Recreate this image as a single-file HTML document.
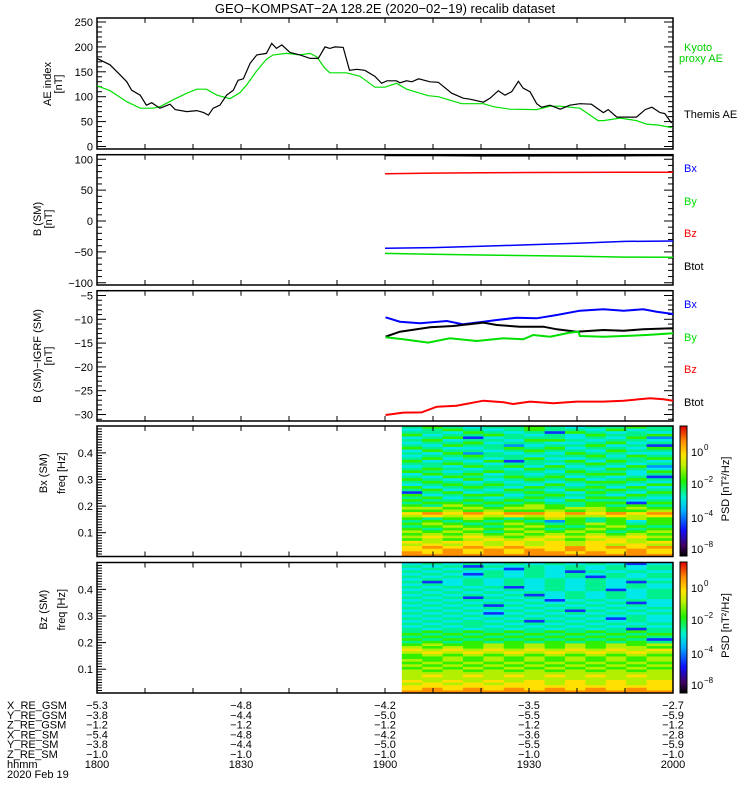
<!DOCTYPE html>
<html><head><meta charset="utf-8">
<style>
html,body{margin:0;padding:0;background:#fff;}
svg{display:block;font-family:"Liberation Sans",sans-serif;}
text{font-size:11px;}
</style></head>
<body>
<svg id="chart" width="750" height="800" viewBox="0 0 750 800" xmlns="http://www.w3.org/2000/svg">
<defs>
<linearGradient id="cbar" x1="0" y1="1" x2="0" y2="0">
<stop offset="0" stop-color="#000000"/>
<stop offset="0.08" stop-color="#400060"/>
<stop offset="0.2" stop-color="#1010ff"/>
<stop offset="0.35" stop-color="#00b0ff"/>
<stop offset="0.45" stop-color="#00f0d0"/>
<stop offset="0.58" stop-color="#20f000"/>
<stop offset="0.7" stop-color="#c0f000"/>
<stop offset="0.78" stop-color="#ffe000"/>
<stop offset="0.88" stop-color="#ff9000"/>
<stop offset="1" stop-color="#e00000"/>
</linearGradient>
</defs>
<text x="385" y="13" text-anchor="middle" style="font-size:13px">GEO−KOMPSAT−2A 128.2E (2020−02−19) recalib dataset</text>
<g id="g"></g>
</svg>
<script>
// ---------- data ----------
const aeTimes = [0,2.7,4.8,6.2,7.2,9.0,10.3,11.4,13.1,15.2,16.3,18.7,20.8,22.2,23.2,24.2,25.6,27.0,28.4,29.4,30.5,31.9,33.3,35.3,36.4,37.4,38.5,40.2,42.3,44.4,46.1,47.5,48.5,49.6,51.3,52.6,54.1,55.8,57.9,59.3,60.4,62.4,63.1,64.5,65.6,67.0,69.4,71.1,73.9,76.3,77.7,80.5,81.9,83.6,85.0,86.4,87.8,88.8,90.2,91.6,92.6,94.4,96.5,98.5,100.6,103.0,105.5,106.5,108.3,112.4,114.2,115.6,117.3,118.3,119.7];
const themisAE = [177,164,144,130,113,103,83,88,77,85,74,70,72,68,63,77,83,103,113,133,136,167,184,187,207,197,204,189,184,177,177,200,197,200,199,153,155,153,141,127,132,132,128,132,130,136,130,129,107,97,95,89,97,112,103,110,131,117,110,86,79,83,75,83,86,85,68,74,59,59,74,79,68,66,47];
const kyotoTimes = [0,2.7,4.8,6.2,9.0,11.7,13.1,15.9,18.7,20.8,22.8,25.0,27.7,29.8,31.2,33.3,35.3,36.7,39.5,42.3,44.4,45.8,47.5,48.5,52.0,54.8,57.9,60.0,62.4,64.5,69.0,71.1,73.9,76.0,80.5,82.6,86.0,91.6,94.4,96.5,98.5,100.6,104.4,105.5,109.0,112.4,114.5,117.0,119.7];
const kyotoAE = [122,112,99,90,77,77,80,94,107,115,115,103,96,108,124,152,175,184,187,184,187,180,157,148,148,141,119,119,127,115,102,100,92,86,86,80,75,74,81,81,79,77,52,52,57,52,45,43,38];

const bTimes = [60,70,80,90,100,110,120];
const bsmBx = [-44,-43,-41,-38.5,-36,-33,-32.4];
const bsmBy = [-52.4,-54,-55,-56,-57,-58.5,-58.8];
const bsmBz = [76.5,77.5,78,78.5,78.7,78.8,78.9];
const bsmBtot = [106,106,105.5,105.5,105.5,105.8,106];

const dBxT = [60.1,63.1,67.3,72.9,76.3,80.5,83.3,87.4,91.6,95.8,100.6,105.5,109.7,113.8,116.6,120];
const dBx = [-9.58,-10.5,-10.85,-10.36,-11.06,-10.5,-10.15,-9.66,-9.79,-9.1,-8.19,-7.9,-8.19,-7.9,-8.4,-8.89];
const dByT = [60.1,63.8,69.0,73.5,79.1,84.7,88.8,90.9,94.4,98.5,100.3,100.6,105.5,109.7,114.5,120];
const dBy = [-13.78,-14.2,-14.9,-14.0,-14.56,-14.0,-14.2,-13.3,-13.66,-12.8,-12.6,-13.5,-13.66,-13.5,-13.3,-12.95];
const dBzT = [60.1,63.8,67.6,70.8,74.9,80.5,84.7,86.7,90.2,95.1,99.9,105.5,109.7,115.2,118,120];
const dBz = [-30.1,-29.6,-29.55,-28.36,-28.15,-27.1,-27.44,-27.8,-27.3,-27.65,-27.3,-27.3,-27.1,-26.6,-26.8,-27.1];
const dBtT = [60.1,63.1,69.4,74.2,80.5,83.3,88.1,93,95.8,99.9,105.5,109.7,113.8,120];
const dBt = [-13.66,-12.6,-11.68,-11.4,-10.7,-11.2,-11.55,-11.55,-12.1,-12.6,-12.25,-12.4,-12.1,-11.9];

const xTickLabels = ["1800","1830","1900","1930","2000"];
const xTickMinutes = [0,30,60,90,120];
const ephemNames = ["X_RE_GSM","Y_RE_GSM","Z_RE_GSM","X_RE_SM","Y_RE_SM","Z_RE_SM","hhmm"];
const ephemX_GSM = ["−5.3","−4.8","−4.2","−3.5","−2.7"];
const ephemY_GSM = ["−3.8","−4.4","−5.0","−5.5","−5.9"];
const ephemZ_GSM = ["−1.2","−1.2","−1.2","−1.2","−1.2"];
const ephemX_SM = ["−5.4","−4.8","−4.2","−3.6","−2.8"];
const ephemY_SM = ["−3.8","−4.4","−5.0","−5.5","−5.9"];
const ephemZ_SM = ["−1.0","−1.0","−1.0","−1.0","−1.0"];

// spectrogram: log-PSD level codes (0 low .. 9 high), rows top (high freq) -> bottom
const specStartMin = 63.5;
const specColMin = 4.25;
const specBx = ["5654556545565","4565456554645","5546545265454","6455654546556","4562455545463","5645546654554","4556455445645","5465534556452","6544565645546","4655456554655","5463545465544","4556554556465","5645456445556","6454625564654","5565455456545","4546564645463","5654546554654","6545655465546","4656454556645","5465565645452","6546456564565","5654545456654","4565654645546","6456546556464","5645465465655","2564556546546","6456645655465","5645456546654","6556565465545","5665656556626","6576567656565","7767677677676","6676766767667","8989899898989","7878787877878","6567656765676","5656565365646","6765676567656","5676567656765","6567676567656","7676567676567","6767676767676","7878767878787","6767878767876","8788787878878","7878787878787","8989898898989","8898989898898","9898989989898","9999999999999"];
const specBz = ["4545454545424","5452545454545","4545425454545","5454545425454","4542545454545","5454545452545","4545454545454","5245454545425","4545454545454","5454524545454","4545454545245","5454545454545","4545452454545","5452545454545","4545454245454","5454545454524","4545254545454","5454545454545","4545454525454","5454245454545","4545454545454","5454545454254","4545452545454","5455545454545","4545454545454","5454545454525","5656565656565","6565656565656","5656565656565","6565656565652","5656565656565","6766767676767","7676767676776","8787878787878","7878787878787","6767676767676","6676767676767","7676767676767","6767676767676","7676767676767","6767676767676","7676767676767","7777777777777","7878787878787","7777777777777","8787878787878","7878788787878","8888888888888","8989898989898","9999999999999"];
const levelColors = ["#300040","#3000b0","#1030ff","#0090ff","#00e8e8","#00f090","#30f000","#b0f000","#ffe000","#ff9000"];

// ---------- helpers ----------
const NS = "http://www.w3.org/2000/svg";
const G = document.getElementById("g");
const X0 = 97, X1 = 673;
function xs(m){ return X0 + m * (X1 - X0) / 120; }
function mk(tag, attrs){ const e = document.createElementNS(NS, tag); for (const k in attrs) e.setAttribute(k, attrs[k]); G.appendChild(e); return e; }
function txt(x, y, s, attrs){ const e = mk("text", Object.assign({x:x, y:y}, attrs||{})); e.textContent = s; return e; }

const panels = [
  {top:18, bot:149, y:v=>146.5 - v*0.498},
  {top:154.7, bot:285, y:v=>221 - v*0.6175},
  {top:290.7, bot:421, y:v=>295.5 + (-5 - v)*4.76},
  {top:426, bot:556.5, y:f=>559.3 - f*266},
  {top:562.5, bot:693, y:f=>695.8 - f*266}
];

function frame(p, name){
  const r = mk("rect", {x:X0, y:p.top, width:X1-X0, height:p.bot-p.top, fill:"none", stroke:"#000", "stroke-width":1.5});
  
  
  for (let m = 0; m <= 120; m += 10){
    const x = xs(m);
    const t1 = mk("line", {x1:x, x2:x, y1:p.bot, y2:p.bot-5, stroke:"#000"});
    
    
    const t2 = mk("line", {x1:x, x2:x, y1:p.top, y2:p.top+5, stroke:"#000"});
    
    
  }
}
function yTicks(p, lo, hi, minor, major, labels){
  for (let v = lo; v <= hi + 1e-9; v += minor){
    const y = p.y(v);
    if (y < p.top - 0.5 || y > p.bot + 0.5) continue;
    const isMaj = Math.abs(Math.round(v/major)*major - v) < 1e-6;
    const L = isMaj ? 9 : 5;
    const a = mk("line", {x1:X0, x2:X0+L, y1:y, y2:y, stroke:"#000"});
    
    
    const b = mk("line", {x1:X1, x2:X1-L, y1:y, y2:y, stroke:"#000"});
    
    
  }
  labels.forEach(v => {
    const t = txt(X0-4, p.y(v)+4, String(v).replace("-", "−"), {"text-anchor":"end"});
    
    
  });
}
function series(p, times, vals, color, w, name){
  const pts = times.map((t,i) => xs(t).toFixed(1) + "," + Math.max(p.top, Math.min(p.bot, p.y(vals[i]))).toFixed(1)).join(" ");
  const l = mk("polyline", {points:pts, fill:"none", stroke:color, "stroke-width":w});
  
  
}
function ylabel(x, y, s, name){
  const t = txt(0, 0, s, {transform:"translate("+x+","+y+") rotate(-90)", "text-anchor":"middle"});
  
  
}
function legend(x, y, s, color, name){
  const t = txt(x, y, s, {fill:color});
  
  
}

// ---------- panel 1: AE ----------
frame(panels[0], "ae-panel");
yTicks(panels[0], 0, 250, 10, 50, [250,200,150,100,50,0]);
series(panels[0], kyotoTimes, kyotoAE, "#00e000", 1.2, "kyoto-proxy-ae-line");
series(panels[0], aeTimes, themisAE, "#000", 1.2, "themis-ae-line");
ylabel(51, 84, "AE index", "ae-y-axis-title");
ylabel(62, 84, "[nT]", "ae-y-axis-unit");
legend(684, 51, "Kyoto", "#00d000", "legend-kyoto");
legend(679, 62, "proxy AE", "#00d000", "legend-proxy-ae");
legend(684, 118, "Themis AE", "#000", "legend-themis-ae");

// ---------- panel 2: B SM ----------
frame(panels[1], "bsm-panel");
yTicks(panels[1], -100, 100, 10, 50, [100,50,0,-50,-100]);
series(panels[1], bTimes, bsmBtot, "#000", 1.5, "bsm-btot-line");
series(panels[1], bTimes, bsmBz, "#ff0000", 1.5, "bsm-bz-line");
series(panels[1], bTimes, bsmBx, "#0000ff", 1.5, "bsm-bx-line");
series(panels[1], bTimes, bsmBy, "#00e000", 1.5, "bsm-by-line");
ylabel(41, 219, "B (SM)", "bsm-y-axis-title");
ylabel(52, 219, "[nT]", "bsm-y-axis-unit");
legend(684, 172, "Bx", "#0000ff", "legend-bx");
legend(684, 205, "By", "#00e000", "legend-by");
legend(684, 237, "Bz", "#ff0000", "legend-bz");
legend(684, 270, "Btot", "#000", "legend-btot");

// ---------- panel 3: B - IGRF ----------
frame(panels[2], "b-igrf-panel");
yTicks(panels[2], -31, -4, 1, 5, [-5,-10,-15,-20,-25,-30]);
series(panels[2], dBxT, dBx, "#0000ff", 2, "digrf-bx-line");
series(panels[2], dBtT, dBt, "#000", 2, "digrf-btot-line");
series(panels[2], dByT, dBy, "#00e000", 2, "digrf-by-line");
series(panels[2], dBzT, dBz, "#ff0000", 2, "digrf-bz-line");
ylabel(41, 356, "B (SM)−IGRF (SM)", "digrf-y-axis-title");
ylabel(52, 356, "[nT]", "digrf-y-axis-unit");
legend(684, 308, "Bx", "#0000ff", "legend-digrf-bx");
legend(684, 341, "By", "#00e000", "legend-digrf-by");
legend(684, 373, "Bz", "#ff0000", "legend-digrf-bz");
legend(684, 406, "Btot", "#000", "legend-digrf-btot");

// ---------- spectrograms ----------
function spectro(p, rows, name, ytitle, cbTop, cbBot){
  const n = rows.length, h = (p.bot - p.top) / n;
  rows.forEach((row, r) => {
    for (let c = 0; c < row.length; c++){
      const x0 = xs(specStartMin + c*specColMin);
      const x1 = c === row.length-1 ? X1 : xs(specStartMin + (c+1)*specColMin);
      const cell = mk("rect", {x:x0.toFixed(2), y:(p.top + r*h).toFixed(2), width:(x1-x0+0.3).toFixed(2), height:(h+0.3).toFixed(2), fill:levelColors[+row[c]]});
      
      
    }
  });
  frame(p, name + "-panel");
  for (let f = 0.01; f <= 0.5; f += 0.01){
    const y = p.y(f);
    if (y < p.top || y > p.bot) continue;
    const maj = Math.abs(f*10 - Math.round(f*10)) < 1e-6;
    const a = mk("line", {x1:X0, x2:X0+(maj?9:5), y1:y, y2:y, stroke:"#000"});
    
    
  }
  [0.4,0.3,0.2,0.1].forEach(f => {
    const t = txt(X0-4, p.y(f)+4, f.toFixed(1), {"text-anchor":"end"});
    
    
  });
  ylabel(47, (p.top+p.bot)/2 - 18, ytitle, name + "-y-axis-title");
  ylabel(65, (p.top+p.bot)/2 - 18, "freq [Hz]", name + "-freq-title");
  const cb = mk("rect", {x:680, y:cbTop, width:7, height:cbBot-cbTop, fill:"url(#cbar)", stroke:"#000", "stroke-width":1});
  
  
  const labs = [["10",  "0", 30], ["10", "−2", 62], ["10", "−4", 96], ["10", "−8", 127]];
  labs.forEach(L => {
    const t = txt(691, cbTop + L[2], L[0], {});
    
    
    const s = txt(704, cbTop + L[2] - 6, L[1], {style:"font-size:8px"});
    
    
  });
  ylabel(729, (cbTop+cbBot)/2 - 2, "PSD [nT²/Hz]", name + "-colorbar-title");
}
spectro(panels[3], specBx, "bx-spectrogram", "Bx (SM)", 426, 556);
spectro(panels[4], specBz, "bz-spectrogram", "Bz (SM)", 562, 693);

// ---------- ephemeris footer ----------
const ephemRows = [ephemX_GSM, ephemY_GSM, ephemZ_GSM, ephemX_SM, ephemY_SM, ephemZ_SM, xTickLabels];
ephemNames.forEach((nm, i) => {
  const y = 709 + i*9.8;
  const t = txt(7, y, nm, {});
  
  
  ephemRows[i].forEach((v, j) => {
    const tv = txt(xs(xTickMinutes[j]), y, v, {"text-anchor":"middle"});
    
    
  });
});
const dt = txt(7, 778, "2020 Feb 19", {});


</script>
</body></html>
